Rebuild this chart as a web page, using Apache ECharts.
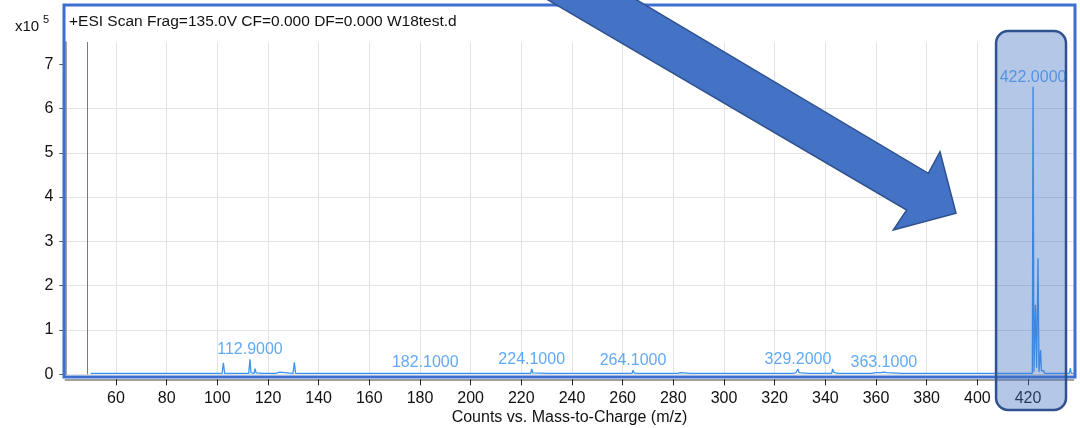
<!DOCTYPE html>
<html>
<head>
<meta charset="utf-8">
<script src="https://cdn.jsdelivr.net/npm/echarts@6/dist/echarts.min.js"></script>
<style>
  html, body { margin: 0; padding: 0; background: #ffffff; }
  #chart { width: 1080px; height: 428px; }
</style>
</head>
<body>
<div id="chart"></div>
<script>
// Scan header and axis text
const scanTitle = '+ESI Scan Frag=135.0V CF=0.000 DF=0.000 W18test.d';
const xAxisTitle = 'Counts vs. Mass-to-Charge (m/z)';
const yScaleBase = 'x10';
const yScaleExp = '5';

// Tick labels
const xTicks = [60, 80, 100, 120, 140, 160, 180, 200, 220, 240, 260, 280, 300, 320, 340, 360, 380, 400, 420];
const yTicks = [0, 1, 2, 3, 4, 5, 6, 7];

// Spectrum: m/z and counts (x10^5)
const mz = [
  50.0, 101.9, 102.4, 102.9, 106.0, 106.3, 106.6, 107.6, 107.9, 108.2,
  109.3, 109.6, 109.9, 112.4, 112.9, 113.3, 114.5, 114.9, 115.3, 115.7,
  118.0, 118.3, 118.6, 122.9, 123.3, 123.7, 124.2, 124.6, 125.0, 129.9,
  130.4, 130.9, 135.0, 135.3, 135.6, 139.6, 139.9, 140.2, 149.3, 149.6,
  149.9, 150.3, 157.9, 158.2, 158.5, 164.9, 165.2, 165.5, 181.8, 182.1,
  182.5, 193.8, 194.1, 194.4, 194.8, 199.8, 200.1, 200.4, 212.7, 213.0,
  213.4, 219.2, 219.5, 219.8, 223.7, 224.1, 224.5, 224.9, 230.6, 230.9,
  231.2, 244.7, 245.0, 245.3, 247.7, 248.0, 248.3, 263.7, 264.1, 264.5,
  264.9, 265.3, 270.0, 270.3, 270.6, 277.5, 277.8, 278.2, 279.3, 279.6,
  280.0, 281.7, 282.0, 282.4, 282.8, 283.2, 286.8, 287.1, 287.4, 290.2,
  290.5, 290.8, 292.7, 293.0, 293.3, 296.6, 296.9, 297.2, 300.8, 301.1,
  301.4, 314.2, 314.5, 314.8, 318.1, 318.4, 318.7, 321.0, 321.3, 321.6,
  327.0, 327.3, 327.7, 328.3, 328.7, 329.2, 329.6, 330.0, 333.3, 333.6,
  333.9, 336.3, 336.6, 336.9, 342.5, 342.9, 343.3, 343.7, 344.1, 344.6,
  345.0, 346.7, 347.0, 347.3, 358.5, 358.8, 359.2, 359.7, 360.2, 360.7,
  361.2, 361.8, 362.4, 363.1, 363.6, 364.3, 364.9, 370.0, 370.3, 370.6,
  380.7, 381.0, 381.3, 389.7, 390.0, 390.3, 398.7, 399.0, 399.3, 408.7,
  409.0, 409.3, 416.7, 417.0, 417.3, 421.7, 422.0, 422.35, 422.55, 422.95,
  423.4, 423.95, 424.35, 424.6, 424.95, 425.3, 425.55, 425.8, 426.2, 426.5,
  436.3, 436.7, 437.1, 438.0
];
const counts = [
  0.02, 0.02, 0.26, 0.02, 0.02, 0.04, 0.02, 0.02, 0.03, 0.02,
  0.02, 0.04, 0.02, 0.02, 0.34, 0.03, 0.02, 0.13, 0.03, 0.02,
  0.02, 0.03, 0.02, 0.02, 0.05, 0.03, 0.03, 0.05, 0.02, 0.02,
  0.27, 0.02, 0.02, 0.03, 0.02, 0.02, 0.03, 0.02, 0.02, 0.045,
  0.03, 0.02, 0.02, 0.045, 0.02, 0.02, 0.035, 0.02, 0.02, 0.06,
  0.02, 0.02, 0.04, 0.03, 0.02, 0.02, 0.045, 0.02, 0.02, 0.05,
  0.02, 0.02, 0.04, 0.02, 0.02, 0.12, 0.03, 0.02, 0.02, 0.03,
  0.02, 0.02, 0.04, 0.02, 0.02, 0.035, 0.02, 0.02, 0.09, 0.03,
  0.05, 0.02, 0.02, 0.03, 0.02, 0.02, 0.04, 0.02, 0.02, 0.04,
  0.02, 0.02, 0.05, 0.03, 0.04, 0.02, 0.02, 0.04, 0.02, 0.02,
  0.035, 0.02, 0.02, 0.035, 0.02, 0.02, 0.03, 0.02, 0.02, 0.03,
  0.02, 0.02, 0.045, 0.02, 0.02, 0.03, 0.02, 0.02, 0.04, 0.02,
  0.02, 0.06, 0.03, 0.03, 0.07, 0.12, 0.04, 0.02, 0.02, 0.03,
  0.02, 0.02, 0.035, 0.02, 0.02, 0.12, 0.05, 0.06, 0.03, 0.04,
  0.02, 0.02, 0.03, 0.02, 0.02, 0.035, 0.03, 0.04, 0.03, 0.04,
  0.03, 0.04, 0.03, 0.05, 0.03, 0.04, 0.02, 0.02, 0.03, 0.02,
  0.02, 0.035, 0.02, 0.02, 0.03, 0.02, 0.02, 0.045, 0.02, 0.02,
  0.05, 0.02, 0.02, 0.03, 0.02, 0.02, 6.49, 0.06, 0.06, 1.57,
  0.15, 2.62, 0.05, 0.06, 0.55, 0.08, 0.12, 0.05, 0.08, 0.02,
  0.02, 0.14, 0.02, 0.02
];

// Peaks annotated with their m/z
const labeledPeaks = [112.9, 182.1, 224.1, 264.1, 329.2, 363.1, 422.0];

// Marker line position and highlighted m/z window
const markerMz = [48.5];
const highlightWindow = [407.4, 435.0];

const FONT = '"Liberation Sans", Arial, Helvetica, sans-serif';
const spectrumColor = '#3a94f2';
const labelColor = '#3a94f0';

const spectrum = mz.map((m, i) => [m, counts[i]]);
const labelPoints = labeledPeaks.map(m => [m, counts[mz.indexOf(m)]]);

const chart = echarts.init(document.getElementById('chart'), null, { renderer: 'canvas' });

chart.setOption({
  animation: false,
  textStyle: { fontFamily: FONT },
  grid: { left: 65.3, right: 6.4, top: 42, bottom: 53.7, containLabel: false, outerBoundsMode: 'none' },
  xAxis: {
    type: 'value',
    min: 40,
    max: 438,
    interval: 20,
    offset: 5,
    axisLine: { show: true, onZero: false, lineStyle: { color: '#808080', width: 1.5 } },
    axisTick: { show: true, length: 6, customValues: xTicks, lineStyle: { color: '#222222' } },
    axisLabel: { customValues: xTicks, color: '#111111', fontSize: 16, margin: 11, fontFamily: FONT },
    splitLine: { show: true, showMaxLine: false, lineStyle: { color: '#e3e3e3', width: 1 } },
    name: xAxisTitle,
    nameLocation: 'middle',
    nameGap: 30,
    nameMoveOverlap: false,
    nameTextStyle: { fontSize: 16, color: '#111111', fontFamily: FONT }
  },
  yAxis: {
    type: 'value',
    min: 0,
    max: 7.5,
    interval: 1,
    axisLine: { show: true, lineStyle: { color: '#808080', width: 1.5 } },
    axisTick: { show: true, length: 6, customValues: yTicks, lineStyle: { color: '#555555' } },
    axisLabel: { customValues: yTicks, color: '#111111', fontSize: 16, margin: 12, fontFamily: FONT },
    splitLine: { show: true, showMaxLine: false, lineStyle: { color: '#e3e3e3', width: 1 } }
  },
  series: [
    {
      type: 'line',
      data: spectrum,
      showSymbol: false,
      symbol: 'none',
      lineStyle: { color: spectrumColor, width: 1.3 },
      z: 3,
      markLine: {
        silent: true,
        symbol: 'none',
        label: { show: false },
        lineStyle: { color: '#7a7a7a', type: 'solid', width: 1 },
        data: markerMz.map(v => ({ xAxis: v }))
      }
    },
    {
      type: 'scatter',
      data: labelPoints,
      symbol: 'circle',
      symbolSize: 1,
      itemStyle: { color: 'rgba(0,0,0,0)' },
      z: 4,
      label: {
        show: true,
        position: 'top',
        distance: 1,
        color: labelColor,
        fontSize: 16,
        fontFamily: FONT,
        formatter: p => p.value[0].toFixed(4)
      }
    }
  ]
});

// Overlays: frame, header text, arrow and highlighted window
const boxLeft = chart.convertToPixel({ gridIndex: 0 }, [highlightWindow[0], 0])[0];
const boxRight = chart.convertToPixel({ gridIndex: 0 }, [highlightWindow[1], 0])[0];

chart.setOption({
  graphic: [
    {
      type: 'rect', id: 'frame', z: 50,
      shape: { x: 64, y: 5, width: 1011, height: 372 },
      style: { fill: 'none', stroke: '#3b6fd0', lineWidth: 3 }
    },
    {
      type: 'text', id: 'scanTitle', z: 51, x: 69, y: 22,
      style: { text: scanTitle, fontSize: 15.5, fontFamily: FONT, fill: '#111111', verticalAlign: 'middle', align: 'left' }
    },
    {
      type: 'text', id: 'scaleBase', z: 51, x: 15, y: 27,
      style: { text: yScaleBase, fontSize: 15, fontFamily: FONT, fill: '#111111', verticalAlign: 'middle', align: 'left' }
    },
    {
      type: 'text', id: 'scaleExp', z: 51, x: 43, y: 20,
      style: { text: yScaleExp, fontSize: 11, fontFamily: FONT, fill: '#111111', verticalAlign: 'middle', align: 'left' }
    },
    {
      type: 'polygon', id: 'arrow', z: 60,
      shape: {
        points: [
          [531, -10], [620, -10], [928.3, 173.3], [940, 151.7],
          [956, 213.3], [893.3, 230], [906.7, 210]
        ]
      },
      style: { fill: '#4472c4', stroke: '#2f528f', lineWidth: 1.5 }
    },
    {
      type: 'rect', id: 'window', z: 61,
      shape: { x: boxLeft, y: 31, width: boxRight - boxLeft, height: 379, r: 12 },
      style: { fill: 'rgba(68,114,196,0.4)', stroke: '#2f528f', lineWidth: 2.5 }
    }
  ]
});
</script>
</body>
</html>
